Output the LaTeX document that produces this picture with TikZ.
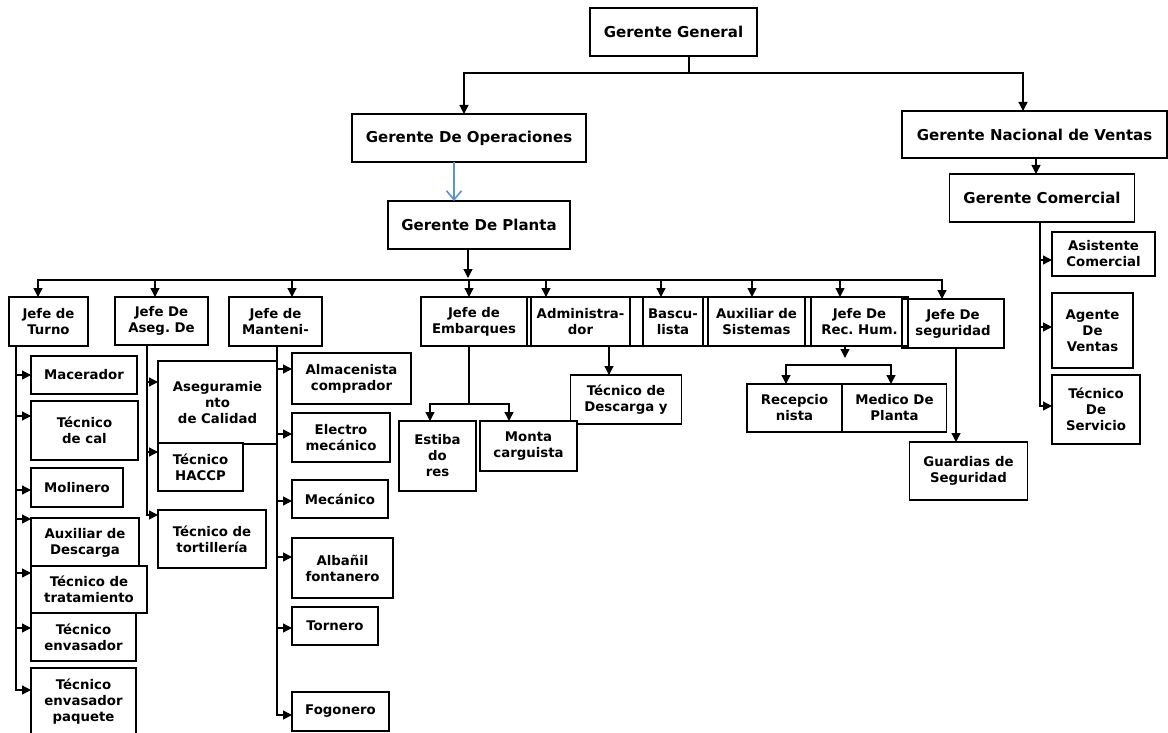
\documentclass[tikz,border=0pt]{standalone}
\usepackage{fontspec}
\usepackage{tikz}
\usetikzlibrary{arrows.meta}
\newfontfamily\orgfont{DejaVu Sans}
\frenchspacing
\definecolor{linkblue}{RGB}{91,146,212}
\tikzset{>={Triangle[length=9pt,width=9pt]}}
\tikzset{
  box/.style={draw, line width=1.6pt, fill=white, align=center, inner sep=0pt,
    outer sep=0pt, font={\orgfont\bfseries\fontsize{13.3}{16}\selectfont}},
  topbox/.style={box, font={\orgfont\bfseries\fontsize{15}{18}\selectfont}},
  sz/.style 2 args={minimum width=#1pt, minimum height=#2pt},
  link/.style={line width=1.3pt},
  bluelink/.style={line width=1.6pt, draw=linkblue,
    -{Straight Barb[length=9pt,width=15pt]}}
}

\begin{document}
\begin{tikzpicture}[x=1pt,y=-1pt]
  \useasboundingbox (0,0) rectangle (1168,733);
  % managers
  \node[topbox, sz={167}{48}] (gg) at (673.5,32) {Gerente General};
  \node[topbox, sz={234}{48}] (go) at (469,138) {Gerente De Operaciones};
  \node[topbox, sz={265}{47}] (gnv) at (1034.5,134.5) {Gerente Nacional de Ventas};
  \node[topbox, sz={182}{48}] (gp) at (479,225) {Gerente De Planta};
  \node[topbox, sz={185}{48}] (gc) at (1042,198) {Gerente Comercial};
  % heads row
  \node[box, sz={79}{49}] (turno) at (48.5,321.5) {Jefe de\\Turno};
  \node[box, sz={93}{48}] (aseg) at (161.5,321) {Jefe De\\Aseg. De};
  \node[box, sz={93}{49}] (mant) at (275.5,321.5) {Jefe de\\Manteni-};
  \node[box, sz={106}{49}] (emb) at (474,321.5) {Jefe de\\Embarques};
  \node[box, sz={99}{49}] (adm) at (580.5,321.5) {Administra-\\dor};
  \node[box, sz={60}{49}] (bas) at (673,321.5) {Bascu-\\lista};
  \node[box, sz={97}{49}] (aux) at (756.5,321.5) {Auxiliar de\\Sistemas};
  \node[box, sz={97}{49}] (rh) at (859.5,321.5) {Jefe De\\Rec. Hum.};
  \node[box, sz={102}{49}, fill=none] (seg) at (953,323.5) {Jefe De\\seguridad};
  \draw[line width=1.6pt] (emb.north west) rectangle (rh.south east);
  % shift staff
  \node[box, sz={106}{38}] (mac) at (84,375) {Macerador};
  \node[box, sz={107}{59}] (cal) at (84.5,430.5) {Técnico\\de cal};
  \node[box, sz={92}{39}] (mol) at (77,487.5) {Molinero};
  \node[box, sz={108}{49}] (desc) at (85,542.5) {Auxiliar de\\Descarga};
  \node[box, sz={116}{47}] (trat) at (89,589.5) {Técnico de\\tratamiento};
  \node[box, sz={105}{48}] (env) at (83.5,637) {Técnico\\envasador};
  \node[box, sz={105}{68}] (paq) at (83.5,702) {Técnico\\envasador\\paquete};
  % quality staff
  \node[box, sz={119}{83}] (calid) at (217.5,402.5) {Aseguramie\\nto\\de Calidad};
  \node[box, sz={85}{48}] (haccp) at (200.5,467) {Técnico\\HACCP};
  \node[box, sz={108}{58}] (tort) at (212,539) {Técnico de\\tortillería};
  % maintenance staff
  \node[box, sz={119}{51}] (alm) at (351.5,378.5) {Almacenista\\comprador};
  \node[box, sz={98}{49}] (ele) at (341,437.5) {Electro\\mecánico};
  \node[box, sz={96}{38}] (mec) at (340,499) {Mecánico};
  \node[box, sz={101}{60}] (alb) at (342.5,568) {Albañil\\fontanero};
  \node[box, sz={86}{38}] (tor) at (335,626) {Tornero};
  \node[box, sz={97}{39}] (fog) at (340.5,711.5) {Fogonero};
  % shipping, admin, HR, security staff
  \node[box, sz={111}{49}] (tdes) at (626,399.5) {Técnico de\\Descarga y};
  \node[box, sz={77}{70}] (est) at (437.5,456) {Estiba\\do\\res};
  \node[box, sz={97}{50}] (mon) at (528.5,446) {Monta\\carguista};
  \node[box, sz={95}{48}] (rec) at (794.5,408) {Recepcio\\nista};
  \node[box, sz={104}{48}] (med) at (894.5,408) {Medico De\\Planta};
  \node[box, sz={118}{58}] (guard) at (968.5,471) {Guardias de\\Seguridad};
  % sales staff
  \node[box, sz={103}{44}] (asis) at (1103.5,254) {Asistente\\Comercial};
  \node[box, sz={81}{75}] (agv) at (1092.5,330.5) {Agente\\De\\Ventas};
  \node[box, sz={88}{69}] (tser) at (1096,409.5) {Técnico\\De\\Servicio};

  % top links
  \coordinate (gbus) at ([xshift=15.5pt,yshift=-17pt]gg.south);
  \draw[link] ([xshift=15.5pt]gg.south) -- (gbus);
  \draw[link,<->] ([xshift=-5pt]go.north) |- (gbus) -| ([xshift=-11.5pt]gnv.north);
  \draw[bluelink] ([xshift=-15pt]go.south) -- ([xshift=-25pt]gp.north);
  \draw[link,->] ([xshift=1.5pt]gnv.south) -- ([xshift=-6pt]gc.north);
  % plant bus
  \coordinate (mtip) at ([xshift=-11pt,yshift=-29pt]gp.south);
  \coordinate (mbus) at ([xshift=-11pt,yshift=-31pt]gp.south);
  \draw[link,->] ([xshift=-11pt]gp.south) -- (mtip);
  \draw[link,<->] ([xshift=-10.5pt]turno.north) |- (mbus) -| ([xshift=-11pt]seg.north);
  \foreach \n/\d in {aseg/-6.5, mant/16.5, emb/-5, adm/-34.5, bas/-12, aux/-4.5, rh/-19.5}
    \draw[link,<-] ([xshift=\d pt]\n.north) -- ++(0,-17);
  % side branches
  \foreach \n/\d in {mac/0, cal/14.5, mol/-2.5, desc/23.5, trat/16.5, env/9, paq/12}
    \draw[link,->] ([xshift=7pt]turno.south west) |- ([yshift=\d pt]\n.west);
  \foreach \n/\d in {calid/20.5, haccp/15, tort/24}
    \draw[link,->] ([xshift=32pt]aseg.south west) |- ([yshift=\d pt]\n.west);
  \foreach \n/\d in {alm/9.5, ele/3.5, mec/-2, alb/11, tor/-2, fog/-3.5}
    \draw[link,->] ([xshift=48pt]mant.south west) |- ([yshift=\d pt]\n.west);
  \foreach \n/\d in {asis/-6, agv/3.5, tser/3.5}
    \draw[link,->] ([xshift=90.5pt]gc.south west) |- ([yshift=\d pt]\n.west);
  % lower links
  \coordinate (embj) at ([xshift=-5pt,yshift=-58pt]emb.south);
  \draw[link] ([xshift=-5pt]emb.south) -- (embj);
  \draw[link,<->] ([xshift=-7.5pt]est.north) |- (embj) -| ([xshift=-19.5pt]mon.north);
  \draw[link,->] ([xshift=28.5pt]adm.south) -- ([xshift=-17pt]tdes.north);
  \coordinate (rhtip) at ([xshift=-14.5pt,yshift=-12pt]rh.south);
  \coordinate (rhj) at ([xshift=-14.5pt,yshift=-19pt]rh.south);
  \draw[link,->] ([xshift=-14.5pt]rh.south) -- (rhtip);
  \draw[link,<->] ([xshift=-8.5pt]rec.north) |- (rhj) -| ([xshift=-3.5pt]med.north);
  \draw[link,->] ([xshift=3pt]seg.south) -- ([xshift=-12.5pt]guard.north);
\end{tikzpicture}
\end{document}
